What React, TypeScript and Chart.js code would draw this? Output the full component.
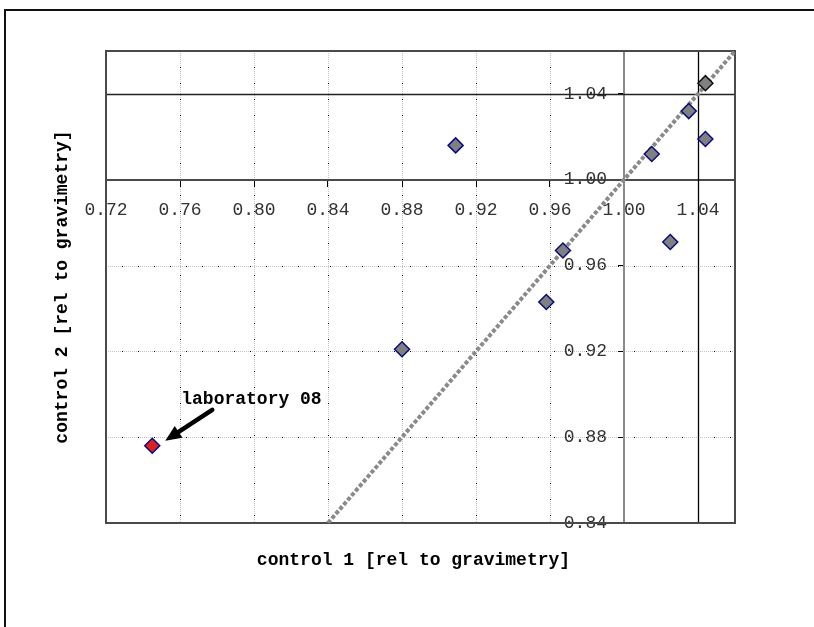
import React, { useEffect, useRef } from 'react';
import { Chart, registerables } from 'chart.js';

Chart.register(...registerables);

// ---- data ----
const control1 = [0.909, 1.015, 1.035, 1.044, 1.044, 1.025, 0.967, 0.958, 0.880];
const control2 = [1.016, 1.012, 1.032, 1.045, 1.019, 0.971, 0.967, 0.943, 0.921];
const outlierX = [0.745];
const outlierY = [0.876];
const outlierLabel = 'laboratory 08';
const xTicks = [0.72, 0.76, 0.8, 0.84, 0.88, 0.92, 0.96, 1.0, 1.04];
const yTicks = [0.84, 0.88, 0.92, 0.96, 1.0, 1.04];
const xRange = [0.72, 1.06];
const yRange = [0.84, 1.06];
const origin = [1.0, 1.0];
const limitX = [1.04];
const limitY = [1.04];
const identityLine = [0.84, 1.06];
const xTitle = 'control 1 [rel to gravimetry]';
const yTitle = 'control 2 [rel to gravimetry]';

const MONO = '"Liberation Mono", "Courier New", monospace';

function dottedLine(ctx: CanvasRenderingContext2D, x1: number, y1: number, x2: number, y2: number) {
  ctx.save();
  ctx.lineWidth = 1;
  ctx.setLineDash([1, 1]);
  ctx.strokeStyle = '#c4c4c4';
  ctx.beginPath();
  ctx.moveTo(x1, y1);
  ctx.lineTo(x2, y2);
  ctx.stroke();
  ctx.setLineDash([1, 15]);
  ctx.strokeStyle = '#000';
  ctx.beginPath();
  ctx.moveTo(x1, y1);
  ctx.lineTo(x2, y2);
  ctx.stroke();
  ctx.restore();
}

const decor = {
  id: 'decor',
  beforeDraw(chart: any) {
    const { ctx, chartArea: a, scales } = chart;
    const xs = scales.x;
    const ys = scales.y;
    // outer frame
    ctx.save();
    ctx.strokeStyle = '#111';
    ctx.lineWidth = 2;
    ctx.beginPath();
    ctx.moveTo(5, chart.height + 5);
    ctx.lineTo(5, 10);
    ctx.lineTo(chart.width + 5, 10);
    ctx.stroke();
    ctx.restore();
    // gridlines
    xTicks.forEach((v) => {
      if (v === xRange[0] || v === origin[0] || limitX.includes(v)) return;
      const px = Math.round(xs.getPixelForValue(v)) + 0.5;
      dottedLine(ctx, px, a.top, px, a.bottom);
    });
    yTicks.forEach((v) => {
      if (v === yRange[0] || v === origin[1] || limitY.includes(v)) return;
      const py = Math.round(ys.getPixelForValue(v)) + 0.5;
      dottedLine(ctx, a.left, py, a.right, py);
    });
  },
  beforeDatasetsDraw(chart: any) {
    const { ctx, chartArea: a, scales } = chart;
    const xs = scales.x;
    const ys = scales.y;
    ctx.save();
    // limit lines
    ctx.lineWidth = 1.3;
    ctx.strokeStyle = '#222';
    limitY.forEach((v) => {
      const py = Math.round(ys.getPixelForValue(v)) + 0.5;
      ctx.beginPath();
      ctx.moveTo(a.left, py);
      ctx.lineTo(a.right, py);
      ctx.stroke();
    });
    ctx.strokeStyle = '#000';
    limitX.forEach((v) => {
      const px = Math.round(xs.getPixelForValue(v)) + 0.5;
      ctx.beginPath();
      ctx.moveTo(px, a.top);
      ctx.lineTo(px, a.bottom);
      ctx.stroke();
    });
    // plot frame
    ctx.lineWidth = 2;
    ctx.strokeStyle = '#4a4a4a';
    ctx.strokeRect(a.left, a.top, a.right - a.left, a.bottom - a.top);
    ctx.restore();
  },
  afterDraw(chart: any) {
    const { ctx, chartArea: a, scales } = chart;
    const xs = scales.x;
    const ys = scales.y;
    ctx.save();
    ctx.fillStyle = '#000';
    ctx.font = `bold 18px ${MONO}`;
    ctx.textAlign = 'center';
    ctx.textBaseline = 'middle';
    ctx.fillText(xTitle, (a.left + a.right) / 2 - 7, a.bottom + 37);
    ctx.save();
    ctx.translate(62, (a.top + a.bottom) / 2);
    ctx.rotate(-Math.PI / 2);
    ctx.fillText(yTitle, 0, 0);
    ctx.restore();
    // annotation
    const px = xs.getPixelForValue(outlierX[0]);
    const py = ys.getPixelForValue(outlierY[0]);
    ctx.textAlign = 'left';
    ctx.fillText(outlierLabel, px + 29, py - 46);
    // arrow
    const tipX = px + 13;
    const tipY = py - 5;
    const tailX = px + 60;
    const tailY = py - 36;
    const ang = Math.atan2(tipY - tailY, tipX - tailX);
    const headLen = 16;
    const headW = 7;
    const bx = tipX - headLen * Math.cos(ang);
    const by = tipY - headLen * Math.sin(ang);
    ctx.strokeStyle = '#000';
    ctx.lineWidth = 4.5;
    ctx.lineCap = 'round';
    ctx.beginPath();
    ctx.moveTo(tailX, tailY);
    ctx.lineTo(bx, by);
    ctx.stroke();
    ctx.beginPath();
    ctx.moveTo(tipX, tipY);
    ctx.lineTo(bx + headW * Math.sin(ang), by - headW * Math.cos(ang));
    ctx.lineTo(bx - headW * Math.sin(ang), by + headW * Math.cos(ang));
    ctx.closePath();
    ctx.fill();
    ctx.restore();
  },
};

export default function App() {
  const ref = useRef<HTMLCanvasElement | null>(null);
  useEffect(() => {
    if (!ref.current) return;
    const pts = control1.map((x, i) => ({ x, y: control2[i] }));
    const borderColors = control1.map((_, i) => (i === 3 ? '#111' : '#0a0a80'));
    const chart = new Chart(ref.current, {
      type: 'scatter',
      data: {
        datasets: [
          {
            label: 'outlier',
            data: outlierX.map((x, i) => ({ x, y: outlierY[i] })),
            pointStyle: 'rectRot',
            radius: 7.5,
            backgroundColor: '#dc2020',
            borderColor: '#0a0a80',
            borderWidth: 1.5,
          },
          {
            label: 'labs',
            data: pts,
            pointStyle: 'rectRot',
            radius: 7.5,
            backgroundColor: '#808080',
            borderColor: borderColors,
            borderWidth: 1.5,
          },
          {
            label: 'identity',
            type: 'line',
            data: identityLine.map((v) => ({ x: v, y: v })),
            showLine: true,
            borderColor: '#8a8a8a',
            borderWidth: 4,
            borderDash: [4, 2],
            pointRadius: 0,
            fill: false,
          } as any,
        ],
      },
      options: {
        animation: false,
        responsive: false,
        maintainAspectRatio: false,
        events: [],
        layout: { padding: { left: 106, top: 51, right: 79, bottom: 104 } },
        plugins: { legend: { display: false }, tooltip: { enabled: false } },
        scales: {
          x: {
            type: 'linear',
            min: xRange[0],
            max: xRange[1],
            position: { y: origin[1] } as any,
            afterBuildTicks: (s: any) => {
              s.ticks = xTicks.map((v) => ({ value: v }));
            },
            ticks: {
              callback: (v: any) => Number(v).toFixed(2),
              font: { family: MONO, size: 18 },
              color: '#333',
              padding: 14,
              maxRotation: 0,
              autoSkip: false,
            },
            grid: { drawOnChartArea: false, drawTicks: true, tickLength: 6, tickColor: '#000', tickWidth: 1 },
            border: { color: '#4a4a4a', width: 2 },
          },
          y: {
            type: 'linear',
            min: yRange[0],
            max: yRange[1],
            position: { x: origin[0] } as any,
            afterBuildTicks: (s: any) => {
              s.ticks = yTicks.map((v) => ({ value: v }));
            },
            afterUpdate: (s: any) => {
              if (s.__shifted) return;
              s.__shifted = true;
              const orig = s._computeLabelItems;
              s._computeLabelItems = function (ca: any) {
                const items = orig.call(this, ca);
                items.forEach((it: any) => {
                  it.options.translation = [it.options.translation[0] - 17, it.options.translation[1]];
                });
                return items;
              };
            },
            ticks: {
              callback: (v: any) => Number(v).toFixed(2),
              font: { family: MONO, size: 18 },
              color: '#333',
              padding: 12,
              autoSkip: false,
            },
            grid: { drawOnChartArea: false, drawTicks: true, tickLength: 5, tickColor: '#000', tickWidth: 1 },
            border: { color: '#8a8a8a', width: 2 },
          },
        },
      },
      plugins: [decor],
    });
    return () => chart.destroy();
  }, []);
  return (
    <div style={{ position: 'absolute', left: 0, top: 0, width: 814, height: 627, background: '#fff' }}>
      <canvas ref={ref} width={814} height={627} style={{ display: 'block', width: 814, height: 627 }} />
    </div>
  );
}
